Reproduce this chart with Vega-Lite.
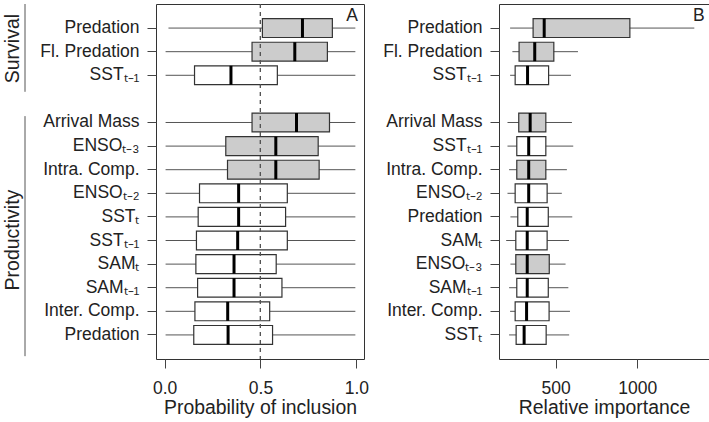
{
  "$schema": "https://vega.github.io/schema/vega-lite/v6.json",
  "padding": {"left": 0, "top": 3, "right": 0, "bottom": 0},
  "background": "white",
  "spacing": 13,
  "config": {
    "font": "Liberation Sans",
    "view": {"stroke": "#333333", "strokeWidth": 1},
    "axis": {
      "domain": false, "grid": false,
      "labelFont": "Liberation Sans", "labelFontSize": 17.5, "labelColor": "#222222",
      "tickColor": "#444444", "tickSize": 9,
      "titleFont": "Liberation Sans", "titleFontSize": 19.4, "titleFontWeight": "normal", "titleColor": "#222222",
      "labelFlush": false
    }
  },
  "datasets": {
    "groups": [
      {"group": "Survival", "start": -0.02, "end": 3.7, "mid": 1.87},
      {"group": "Productivity", "start": 4.73, "end": 14.9, "mid": 9.98}
    ],
    "A": [
      {"key": "S|Predation", "lo": 0.02, "q1": 0.510, "med": 0.719, "q3": 0.875, "hi": 0.995, "sig": "yes"},
      {"key": "S|Fl. Predation", "lo": 0.005, "q1": 0.456, "med": 0.679, "q3": 0.849, "hi": 0.995, "sig": "yes"},
      {"key": "S|SSTₜ₋₁", "lo": 0.005, "q1": 0.156, "med": 0.346, "q3": 0.588, "hi": 0.995, "sig": "no"},
      {"key": "P|Arrival Mass", "lo": 0.005, "q1": 0.456, "med": 0.688, "q3": 0.860, "hi": 0.995, "sig": "yes"},
      {"key": "P|ENSOₜ₋₃", "lo": 0.005, "q1": 0.319, "med": 0.580, "q3": 0.801, "hi": 0.995, "sig": "yes"},
      {"key": "P|Intra. Comp.", "lo": 0.005, "q1": 0.328, "med": 0.580, "q3": 0.806, "hi": 0.995, "sig": "yes"},
      {"key": "P|ENSOₜ₋₂", "lo": 0.005, "q1": 0.182, "med": 0.386, "q3": 0.640, "hi": 0.995, "sig": "no"},
      {"key": "P|SSTₜ", "lo": 0.005, "q1": 0.175, "med": 0.386, "q3": 0.631, "hi": 0.995, "sig": "no"},
      {"key": "P|SSTₜ₋₁", "lo": 0.005, "q1": 0.166, "med": 0.381, "q3": 0.640, "hi": 0.995, "sig": "no"},
      {"key": "P|SAMₜ", "lo": 0.005, "q1": 0.163, "med": 0.362, "q3": 0.582, "hi": 0.995, "sig": "no"},
      {"key": "P|SAMₜ₋₁", "lo": 0.005, "q1": 0.172, "med": 0.362, "q3": 0.612, "hi": 0.995, "sig": "no"},
      {"key": "P|Inter. Comp.", "lo": 0.005, "q1": 0.158, "med": 0.329, "q3": 0.548, "hi": 0.995, "sig": "no"},
      {"key": "P|Predation", "lo": 0.005, "q1": 0.152, "med": 0.331, "q3": 0.563, "hi": 0.995, "sig": "no"}
    ],
    "B": [
      {"key": "S|Predation", "lo": 221, "q1": 362, "med": 430, "q3": 955, "hi": 1350, "sig": "yes"},
      {"key": "S|Fl. Predation", "lo": 235, "q1": 276, "med": 372, "q3": 489, "hi": 637, "sig": "yes"},
      {"key": "S|SSTₜ₋₁", "lo": 221, "q1": 252, "med": 328, "q3": 457, "hi": 594, "sig": "no"},
      {"key": "P|Arrival Mass", "lo": 205, "q1": 274, "med": 344, "q3": 440, "hi": 600, "sig": "yes"},
      {"key": "P|SSTₜ₋₁", "lo": 205, "q1": 262, "med": 335, "q3": 440, "hi": 608, "sig": "no"},
      {"key": "P|Intra. Comp.", "lo": 215, "q1": 262, "med": 335, "q3": 440, "hi": 569, "sig": "yes"},
      {"key": "P|ENSOₜ₋₂", "lo": 205, "q1": 252, "med": 335, "q3": 448, "hi": 538, "sig": "no"},
      {"key": "P|Predation", "lo": 223, "q1": 268, "med": 326, "q3": 455, "hi": 602, "sig": "no"},
      {"key": "P|SAMₜ", "lo": 197, "q1": 256, "med": 326, "q3": 448, "hi": 582, "sig": "no"},
      {"key": "P|ENSOₜ₋₃", "lo": 223, "q1": 256, "med": 326, "q3": 461, "hi": 561, "sig": "yes"},
      {"key": "P|SAMₜ₋₁", "lo": 215, "q1": 262, "med": 326, "q3": 455, "hi": 578, "sig": "no"},
      {"key": "P|Inter. Comp.", "lo": 221, "q1": 252, "med": 322, "q3": 460, "hi": 588, "sig": "no"},
      {"key": "P|SSTₜ", "lo": 215, "q1": 258, "med": 307, "q3": 442, "hi": 583, "sig": "no"}
    ]
  },
  "resolve": {"scale": {"x": "independent", "y": "independent", "fill": "shared"}},
  "hconcat": [
    {
      "width": 25, "height": 355,
      "view": {"stroke": null},
      "data": {"name": "groups"},
      "layer": [
        {
          "mark": {"type": "rule", "color": "#555555", "strokeWidth": 1},
          "encoding": {
            "x": {"datum": 1, "type": "quantitative", "scale": {"domain": [0, 1], "nice": false}, "axis": null},
            "y": {"field": "start", "type": "quantitative", "scale": {"domain": [-0.02, 15.02], "reverse": true, "nice": false, "zero": false}, "axis": null},
            "y2": {"field": "end"}
          }
        },
        {
          "mark": {"type": "text", "angle": 270, "fontSize": 19.5, "color": "#222222", "align": "center", "baseline": "middle"},
          "encoding": {
            "x": {"datum": 0.5, "type": "quantitative"},
            "y": {"field": "mid", "type": "quantitative"},
            "text": {"field": "group"}
          }
        }
      ]
    },
    {
      "width": 208, "height": 355,
      "data": {"name": "A"},
      "layer": [
        {
          "mark": {"type": "rule", "color": "#555555", "strokeWidth": 1},
          "encoding": {
            "y": {"field": "key", "type": "nominal", "sort": null,
              "scale": {"domain": ["S|Predation", "S|Fl. Predation", "S|SSTₜ₋₁", "G|", "P|Arrival Mass", "P|ENSOₜ₋₃", "P|Intra. Comp.", "P|ENSOₜ₋₂", "P|SSTₜ", "P|SSTₜ₋₁", "P|SAMₜ", "P|SAMₜ₋₁", "P|Inter. Comp.", "P|Predation"], "paddingInner": 0, "paddingOuter": 0.52},
              "axis": {"title": null, "values": ["S|Predation", "S|Fl. Predation", "S|SSTₜ₋₁", "P|Arrival Mass", "P|ENSOₜ₋₃", "P|Intra. Comp.", "P|ENSOₜ₋₂", "P|SSTₜ", "P|SSTₜ₋₁", "P|SAMₜ", "P|SAMₜ₋₁", "P|Inter. Comp.", "P|Predation"], "labelExpr": "split(datum.label, '|')[1]", "labelPadding": 8, "tickSize": 9}},
            "x": {"field": "lo", "type": "quantitative",
              "scale": {"domain": [-0.045, 1.04], "nice": false, "zero": false},
              "axis": {"values": [0, 0.5, 1], "format": ".1f", "title": "Probability of inclusion", "labelPadding": 11, "titlePadding": 2, "tickSize": 9}},
            "x2": {"field": "hi"}
          }
        },
        {
          "mark": {"type": "bar", "height": {"band": 0.8}, "stroke": "#333333", "strokeWidth": 1.2},
          "encoding": {
            "y": {"field": "key", "type": "nominal"},
            "x": {"field": "q1", "type": "quantitative"},
            "x2": {"field": "q3"},
            "fill": {"field": "sig", "type": "nominal", "scale": {"domain": ["yes", "no"], "range": ["#cccccc", "#ffffff"]}, "legend": null}
          }
        },
        {
          "mark": {"type": "tick", "color": "#000000", "opacity": 1, "thickness": 3, "size": 19},
          "encoding": {
            "y": {"field": "key", "type": "nominal"},
            "x": {"field": "med", "type": "quantitative"}
          }
        },
        {
          "mark": {"type": "rule", "strokeDash": [4, 4], "color": "#555555", "strokeWidth": 1},
          "encoding": {"x": {"datum": 0.5, "type": "quantitative"}}
        },
        {
          "data": {"values": [{"p": "A"}]},
          "mark": {"type": "text", "fontSize": 17.5, "align": "right", "baseline": "middle", "dy": -12.5, "color": "#222222"},
          "encoding": {
            "x": {"datum": 1.009, "type": "quantitative"},
            "y": {"datum": "S|Predation", "type": "nominal"},
            "text": {"field": "p"}
          }
        }
      ]
    },
    {
      "width": 210, "height": 355,
      "data": {"name": "B"},
      "layer": [
        {
          "mark": {"type": "rule", "color": "#555555", "strokeWidth": 1},
          "encoding": {
            "y": {"field": "key", "type": "nominal", "sort": null,
              "scale": {"domain": ["S|Predation", "S|Fl. Predation", "S|SSTₜ₋₁", "G|", "P|Arrival Mass", "P|SSTₜ₋₁", "P|Intra. Comp.", "P|ENSOₜ₋₂", "P|Predation", "P|SAMₜ", "P|ENSOₜ₋₃", "P|SAMₜ₋₁", "P|Inter. Comp.", "P|SSTₜ"], "paddingInner": 0, "paddingOuter": 0.52},
              "axis": {"title": null, "values": ["S|Predation", "S|Fl. Predation", "S|SSTₜ₋₁", "P|Arrival Mass", "P|SSTₜ₋₁", "P|Intra. Comp.", "P|ENSOₜ₋₂", "P|Predation", "P|SAMₜ", "P|ENSOₜ₋₃", "P|SAMₜ₋₁", "P|Inter. Comp.", "P|SSTₜ"], "labelExpr": "split(datum.label, '|')[1]", "labelPadding": 8, "tickSize": 9}},
            "x": {"field": "lo", "type": "quantitative",
              "scale": {"domain": [153, 1440], "nice": false, "zero": false},
              "axis": {"values": [500, 1000], "format": "d", "title": "Relative importance", "labelPadding": 11, "titlePadding": 2, "tickSize": 9}},
            "x2": {"field": "hi"}
          }
        },
        {
          "mark": {"type": "bar", "height": {"band": 0.8}, "stroke": "#333333", "strokeWidth": 1.2},
          "encoding": {
            "y": {"field": "key", "type": "nominal"},
            "x": {"field": "q1", "type": "quantitative"},
            "x2": {"field": "q3"},
            "fill": {"field": "sig", "type": "nominal", "scale": {"domain": ["yes", "no"], "range": ["#cccccc", "#ffffff"]}, "legend": null}
          }
        },
        {
          "mark": {"type": "tick", "color": "#000000", "opacity": 1, "thickness": 3, "size": 19},
          "encoding": {
            "y": {"field": "key", "type": "nominal"},
            "x": {"field": "med", "type": "quantitative"}
          }
        },
        {
          "data": {"values": [{"p": "B"}]},
          "mark": {"type": "text", "fontSize": 17.5, "align": "right", "baseline": "middle", "dy": -12.5, "color": "#222222"},
          "encoding": {
            "x": {"datum": 1413, "type": "quantitative"},
            "y": {"datum": "S|Predation", "type": "nominal"},
            "text": {"field": "p"}
          }
        }
      ]
    }
  ]
}
